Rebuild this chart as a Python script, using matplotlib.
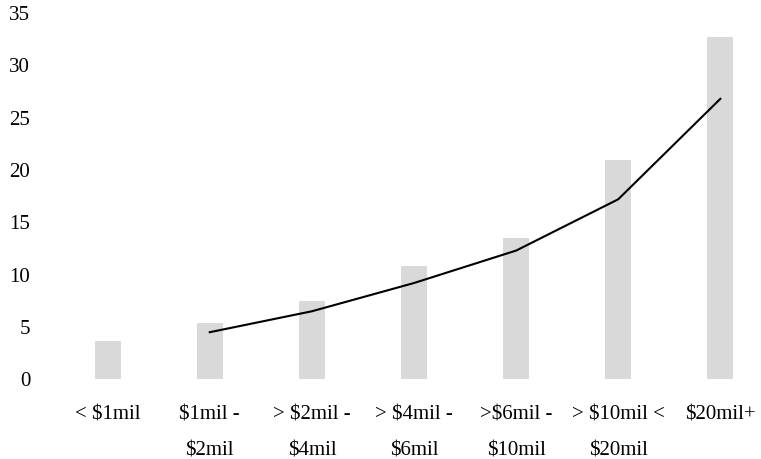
import matplotlib
matplotlib.use('Agg')
import matplotlib.pyplot as plt

# revenue bands along the x axis
categories = ['< $1mil', '$1mil -\n$2mil', '> $2mil -\n$4mil', '> $4mil -\n$6mil',
              '>$6mil -\n$10mil', '> $10mil <\n$20mil', '$20mil+']
bar_values = [3.7, 5.4, 7.5, 10.8, 13.5, 21.0, 32.7]
# trend line starts from the second band
line_values = [None, 4.5, 6.5, 9.2, 12.3, 17.2, 26.8]
y_ticks = [0, 5, 10, 15, 20, 25, 30, 35]

plt.rcParams['font.family'] = ['Liberation Serif', 'DejaVu Serif']

def main():
    W, H = 761, 459
    fig = plt.figure(figsize=(W / 100, H / 100), dpi=100)
    left, right = 56.6, 771.4
    top, bottom = 13.0, 379.3
    ax = fig.add_axes([left / W, 1 - bottom / H, (right - left) / W, (bottom - top) / H])

    xs = list(range(len(categories)))
    ax.bar(xs, bar_values, width=0.255, color='#d9d9d9', zorder=1)

    lx = [x for x, v in zip(xs, line_values) if v is not None]
    ly = [v for v in line_values if v is not None]
    ax.plot(lx, ly, color='black', linewidth=1.5, zorder=2)

    ax.set_xlim(-0.5, 6.5)
    ax.set_ylim(0, 35)
    ax.set_yticks(y_ticks)
    ax.set_yticklabels([str(t) for t in y_ticks], fontsize=15)
    ax.set_xticks(xs)
    ax.set_xticklabels(categories, fontsize=15, linespacing=2.2)
    ax.tick_params(axis='both', length=0)
    ax.tick_params(axis='y', pad=19)
    ax.tick_params(axis='x', pad=19)
    for s in ax.spines.values():
        s.set_visible(False)

    fig.savefig('out.png', dpi=100)

main()
